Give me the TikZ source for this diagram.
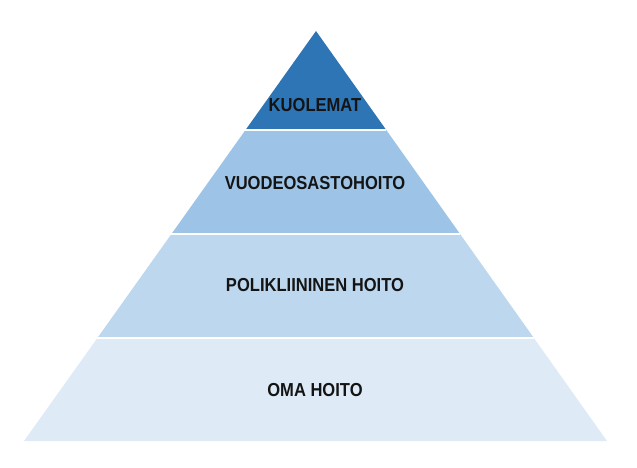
\documentclass[tikz,border=0pt]{standalone}
\usepackage{fontspec}
\newfontfamily\levelfont{Liberation Sans}[FakeStretch=0.88]
\usetikzlibrary{calc}
\definecolor{topblue}{HTML}{2E75B6}
\definecolor{wardblue}{HTML}{9DC3E6}
\definecolor{clinicblue}{HTML}{BDD7EE}
\definecolor{selfblue}{HTML}{DEEBF7}

\begin{document}
\begin{tikzpicture}[x=1pt, y=1pt,
  level/.style={font=\levelfont\bfseries\fontsize{18.8}{18.8}\selectfont, text=black!92},
  gap/.style={draw=white, line width=1.3pt}]
  \useasboundingbox (0,0) rectangle (637,467);
  \coordinate (apex) at (316,436);
  \coordinate (bl) at (24,26);
  \coordinate (br) at (607,26);
  % band edges
  \foreach \f/\n in {0.2415/a, 0.4951/b, 0.7488/c} {
    \coordinate (l\n) at ($(apex)!\f!(bl)$);
    \coordinate (r\n) at ($(apex)!\f!(br)$);
  }
  \fill[topblue] (apex) -- (la) -- (ra) -- cycle;
  \fill[wardblue] (la) -- (lb) -- (rb) -- (ra) -- cycle;
  \fill[clinicblue] (lb) -- (lc) -- (rc) -- (rb) -- cycle;
  \fill[selfblue] (lc) -- (bl) -- (br) -- (rc) -- cycle;
  \draw[gap] (la) -- (ra) (lb) -- (rb) (lc) -- (rc);
  % labels
  \node[level] (kuolemat) at (315,362) {KUOLEMAT};
  \node[level] (osasto) at (315,284) {VUODEOSASTOHOITO};
  \node[level] (poli) at (315,182) {POLIKLIININEN HOITO};
  \node[level] (oma) at (315,77) {OMA HOITO};
\end{tikzpicture}
\end{document}
